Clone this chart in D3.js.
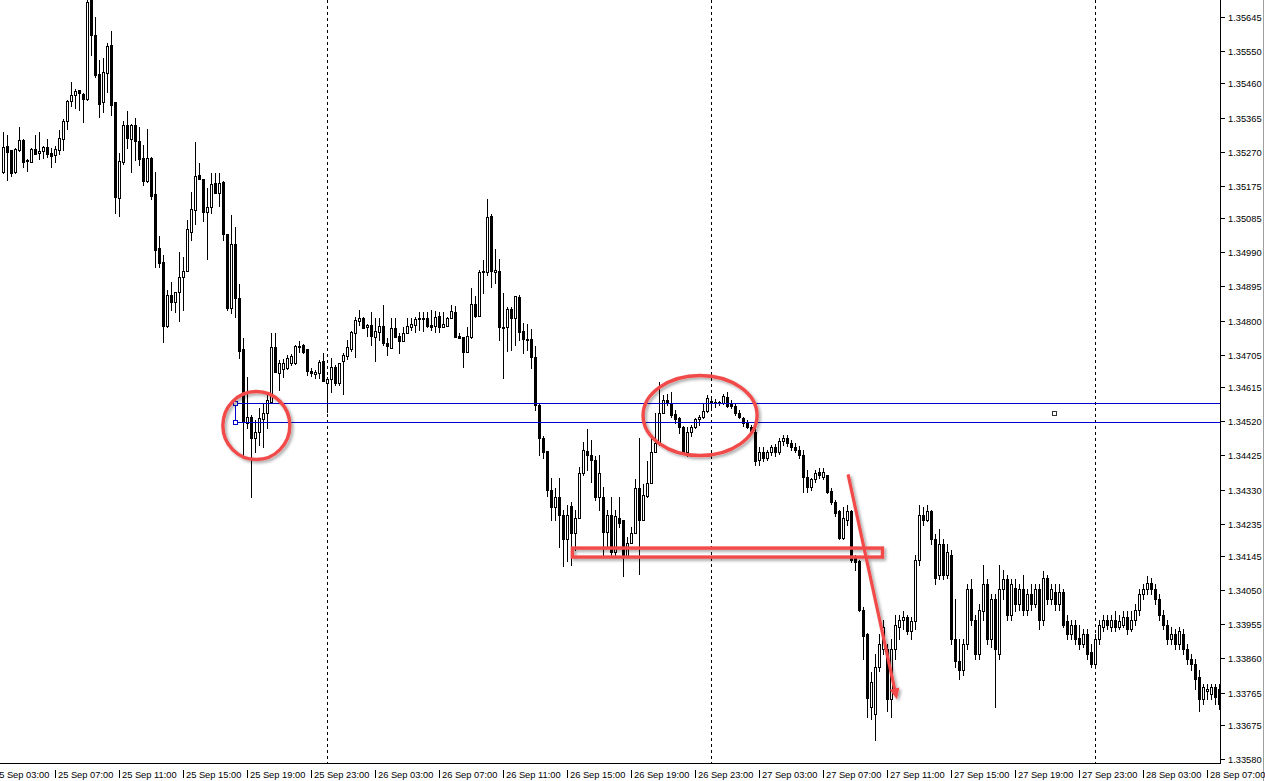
<!DOCTYPE html>
<meta charset="utf-8">
<style>
body { margin: 0; background: #fff; }
svg { display: block; }
.lbl { font: 9.3px "Liberation Sans", Arial, sans-serif; fill: #000; }
</style>
<svg width="1265" height="781"></svg>
<script src="https://d3js.org/d3.v7.min.js"></script>
<script>
// GBPUSD-style M15 bars, 25 Sep 03:45 .. 28 Sep 07:45
var firstBar = "25 Sep 03:45", barMinutes = 15;

var opens = [
1.35214,1.35286,1.35275,1.35214,1.35275,1.35303,1.35244,1.35242,1.35278,1.35267,
1.35272,1.35283,1.35267,1.35261,1.35275,1.35306,1.35356,1.35411,1.35428,1.35442,
1.35431,1.35417,1.35692,1.35595,1.35486,1.35408,1.35489,1.35567,1.35408,1.35142,
1.35242,1.35344,1.35306,1.35344,1.35300,1.35253,1.35189,1.35253,1.35153,1.35003,
1.34964,1.34786,1.34872,1.34852,1.34880,1.34922,1.34939,1.35047,1.35108,1.35205,
1.35194,1.35103,1.35117,1.35183,1.35155,1.35186,1.35041,1.34836,1.35014,1.34864,
1.34722,1.34516,1.34533,1.34474,1.34491,1.34527,1.34544,1.34574,1.34727,1.34655,
1.34666,1.34669,1.34683,1.34683,1.34727,1.34733,1.34722,1.34661,1.34652,1.34655,
1.34688,1.34627,1.34638,1.34672,1.34627,1.34688,1.34702,1.34722,1.34766,1.34800,
1.34808,1.34783,1.34789,1.34755,1.34769,1.34786,1.34738,1.34725,1.34780,1.34758,
1.34744,1.34766,1.34783,1.34789,1.34805,1.34808,1.34808,1.34789,1.34786,1.34814,
1.34783,1.34786,1.34808,1.34825,1.34758,1.34755,1.34713,1.34755,1.34847,1.34814,
1.34936,1.34936,1.35092,1.34936,1.34939,1.34780,1.34783,1.34833,1.34808,1.34866,
1.34772,1.34750,1.34750,1.34700,1.34566,1.34472,1.34438,1.34330,1.34280,1.34310,
1.34260,1.34191,1.34283,1.34210,1.34252,1.34377,1.34438,1.34427,1.34413,1.34308,
1.34308,1.34213,1.34260,1.34155,1.34252,1.34246,1.34144,1.34182,1.34210,1.34333,
1.34246,1.34313,1.34349,1.34435,1.34460,1.34544,1.34580,1.34572,1.34541,1.34530,
1.34505,1.34435,1.34491,1.34505,1.34527,1.34533,1.34549,1.34577,1.34572,1.34572,
1.34572,1.34588,1.34569,1.34563,1.34544,1.34530,1.34519,1.34505,1.34491,1.34413,
1.34435,1.34419,1.34435,1.34447,1.34435,1.34466,1.34474,1.34460,1.34449,1.34441,
1.34427,1.34366,1.34338,1.34358,1.34380,1.34366,1.34369,1.34327,1.34296,1.34271,
1.34196,1.34246,1.34269,1.34138,1.34130,1.33996,1.33927,1.33724,1.33704,1.33835,
1.33885,1.33885,1.33746,1.33885,1.33946,1.33968,1.33974,1.33935,1.33963,1.34135,
1.34260,1.34246,1.34269,1.34191,1.34093,1.34177,1.34093,1.34149,1.33913,1.33852,
1.33829,1.33899,1.34052,1.33968,1.33871,1.33991,1.34066,1.33913,1.34024,1.33871,
1.34052,1.34080,1.33982,1.34057,1.34010,1.34052,1.33996,1.34038,1.34010,1.34052,
1.33968,1.34085,1.34024,1.34046,1.34010,1.34046,1.33963,1.33927,1.33954,1.33918,
1.33899,1.33927,1.33879,1.33843,1.33913,1.33946,1.33968,1.33946,1.33968,1.33946,
1.33954,1.33974,1.33941,1.33968,1.33996,1.34038,1.34052,1.34071,1.34052,1.34024,
1.33982,1.33954,1.33913,1.33927,1.33899,1.33927,1.33885,1.33857,1.33843,1.33807,
1.33746,1.33768,1.33760,1.33779,1.33774];

var highs = [
1.35325,1.35317,1.35275,1.35281,1.35339,1.35306,1.35250,1.35281,1.35317,1.35325,
1.35286,1.35306,1.35281,1.35286,1.35331,1.35361,1.35414,1.35464,1.35445,1.35442,
1.35433,1.35714,1.35720,1.35645,1.35525,1.35531,1.35572,1.35606,1.35408,1.35267,
1.35356,1.35383,1.35347,1.35364,1.35339,1.35289,1.35333,1.35256,1.35214,1.35036,
1.34983,1.34886,1.34908,1.34880,1.34991,1.34978,1.35080,1.35158,1.35297,1.35239,
1.35194,1.35169,1.35211,1.35211,1.35211,1.35189,1.35041,1.35094,1.35061,1.34902,
1.34752,1.34644,1.34536,1.34524,1.34558,1.34572,1.34599,1.34766,1.34766,1.34691,
1.34694,1.34705,1.34708,1.34733,1.34744,1.34736,1.34722,1.34669,1.34663,1.34691,
1.34711,1.34644,1.34697,1.34677,1.34683,1.34711,1.34747,1.34772,1.34811,1.34830,
1.34811,1.34791,1.34825,1.34808,1.34808,1.34844,1.34752,1.34808,1.34808,1.34766,
1.34783,1.34808,1.34808,1.34811,1.34825,1.34825,1.34825,1.34830,1.34827,1.34825,
1.34825,1.34811,1.34844,1.34841,1.34766,1.34755,1.34783,1.34891,1.34869,1.34941,
1.34969,1.35139,1.35097,1.35000,1.34972,1.34877,1.34839,1.34839,1.34869,1.34872,
1.34794,1.34791,1.34777,1.34730,1.34572,1.34480,1.34438,1.34363,1.34335,1.34363,
1.34274,1.34288,1.34294,1.34274,1.34394,1.34463,1.34499,1.34469,1.34422,1.34427,
1.34338,1.34274,1.34310,1.34274,1.34310,1.34246,1.34199,1.34227,1.34358,1.34472,
1.34344,1.34408,1.34477,1.34544,1.34630,1.34594,1.34597,1.34602,1.34552,1.34533,
1.34508,1.34505,1.34510,1.34530,1.34536,1.34572,1.34594,1.34588,1.34583,1.34577,
1.34597,1.34602,1.34580,1.34572,1.34552,1.34533,1.34524,1.34510,1.34502,1.34449,
1.34447,1.34441,1.34455,1.34458,1.34474,1.34483,1.34483,1.34469,1.34460,1.34452,
1.34441,1.34385,1.34363,1.34385,1.34391,1.34391,1.34371,1.34333,1.34302,1.34274,
1.34280,1.34288,1.34274,1.34149,1.34135,1.34002,1.33932,1.33821,1.33871,1.33927,
1.33968,1.33899,1.33913,1.33982,1.33982,1.33991,1.33982,1.33974,1.34149,1.34288,
1.34280,1.34288,1.34274,1.34205,1.34219,1.34191,1.34177,1.34163,1.34024,1.33913,
1.33913,1.34066,1.34080,1.33982,1.34010,1.34121,1.34080,1.34038,1.34038,1.34121,
1.34107,1.34093,1.34080,1.34080,1.34066,1.34093,1.34052,1.34066,1.34066,1.34066,
1.34102,1.34093,1.34066,1.34066,1.34066,1.34052,1.33982,1.33968,1.33968,1.33954,
1.33941,1.33941,1.33899,1.33927,1.33968,1.33982,1.33982,1.33982,1.33991,1.33982,
1.33991,1.33991,1.33991,1.34010,1.34052,1.34066,1.34088,1.34085,1.34066,1.34038,
1.33996,1.33968,1.33946,1.33941,1.33946,1.33941,1.33899,1.33871,1.33857,1.33829,
1.33788,1.33788,1.33788,1.33790,1.33788];

var lows = [
1.35211,1.35192,1.35203,1.35211,1.35272,1.35228,1.35217,1.35242,1.35264,1.35250,
1.35253,1.35256,1.35228,1.35242,1.35264,1.35275,1.35333,1.35397,1.35392,1.35386,
1.35353,1.35414,1.35539,1.35478,1.35367,1.35381,1.35436,1.35372,1.35100,1.35092,
1.35236,1.35281,1.35214,1.35247,1.35233,1.35178,1.35186,1.35139,1.34950,1.34950,
1.34741,1.34783,1.34830,1.34825,1.34800,1.34830,1.34939,1.35025,1.35069,1.35194,
1.35078,1.34972,1.35100,1.35155,1.35119,1.35025,1.34830,1.34822,1.34811,1.34697,
1.34419,1.34502,1.34308,1.34433,1.34455,1.34447,1.34502,1.34574,1.34658,1.34608,
1.34644,1.34666,1.34677,1.34680,1.34713,1.34711,1.34650,1.34647,1.34641,1.34641,
1.34633,1.34547,1.34602,1.34622,1.34622,1.34597,1.34694,1.34716,1.34700,1.34789,
1.34780,1.34758,1.34733,1.34688,1.34747,1.34733,1.34705,1.34725,1.34755,1.34711,
1.34744,1.34766,1.34775,1.34769,1.34775,1.34772,1.34783,1.34775,1.34769,1.34769,
1.34783,1.34786,1.34808,1.34755,1.34752,1.34672,1.34713,1.34752,1.34811,1.34814,
1.34877,1.34927,1.34894,1.34905,1.34747,1.34641,1.34716,1.34719,1.34733,1.34747,
1.34711,1.34719,1.34669,1.34552,1.34427,1.34419,1.34313,1.34246,1.34246,1.34171,
1.34116,1.34130,1.34121,1.34163,1.34252,1.34371,1.34385,1.34352,1.34302,1.34274,
1.34144,1.34171,1.34141,1.34149,1.34227,1.34088,1.34141,1.34182,1.34210,1.34094,
1.34246,1.34310,1.34349,1.34435,1.34455,1.34544,1.34566,1.34533,1.34516,1.34488,
1.34433,1.34424,1.34480,1.34502,1.34510,1.34530,1.34547,1.34552,1.34561,1.34566,
1.34569,1.34561,1.34558,1.34538,1.34530,1.34508,1.34502,1.34491,1.34399,1.34397,
1.34408,1.34413,1.34427,1.34424,1.34430,1.34455,1.34452,1.34441,1.34433,1.34419,
1.34324,1.34324,1.34330,1.34352,1.34363,1.34360,1.34319,1.34291,1.34255,1.34191,
1.34191,1.34232,1.34127,1.34107,1.33991,1.33857,1.33696,1.33690,1.33632,1.33824,
1.33871,1.33713,1.33696,1.33857,1.33913,1.33941,1.33927,1.33913,1.33941,1.34121,
1.34232,1.34241,1.34177,1.34066,1.34080,1.34080,1.34085,1.33899,1.33835,1.33802,
1.33815,1.33885,1.33954,1.33857,1.33857,1.33968,1.33899,1.33891,1.33724,1.33857,
1.34024,1.33968,1.33968,1.33991,1.33996,1.33982,1.33982,1.33996,1.34002,1.33941,
1.33954,1.34010,1.34010,1.33996,1.33996,1.33946,1.33913,1.33913,1.33899,1.33885,
1.33891,1.33857,1.33835,1.33835,1.33899,1.33935,1.33941,1.33935,1.33935,1.33941,
1.33946,1.33927,1.33935,1.33954,1.33982,1.34024,1.34038,1.34038,1.34010,1.33968,
1.33941,1.33899,1.33899,1.33885,1.33885,1.33871,1.33843,1.33829,1.33774,1.33713,
1.33732,1.33746,1.33746,1.33732,1.33718];

var closes = [
1.35283,1.35269,1.35211,1.35278,1.35303,1.35242,1.35247,1.35278,1.35264,1.35272,
1.35283,1.35264,1.35258,1.35278,1.35308,1.35356,1.35411,1.35428,1.35439,1.35433,
1.35417,1.35686,1.35595,1.35484,1.35403,1.35492,1.35564,1.35400,1.35144,1.35244,
1.35344,1.35308,1.35344,1.35300,1.35250,1.35189,1.35253,1.35147,1.34997,1.34961,
1.34786,1.34872,1.34852,1.34880,1.34922,1.34939,1.35055,1.35111,1.35203,1.35194,
1.35103,1.35117,1.35180,1.35155,1.35183,1.35041,1.34836,1.35014,1.34864,1.34716,
1.34519,1.34533,1.34472,1.34491,1.34530,1.34544,1.34580,1.34727,1.34658,1.34683,
1.34683,1.34697,1.34702,1.34730,1.34730,1.34713,1.34661,1.34655,1.34658,1.34686,
1.34633,1.34638,1.34672,1.34627,1.34683,1.34705,1.34727,1.34769,1.34802,1.34808,
1.34780,1.34789,1.34758,1.34772,1.34786,1.34738,1.34730,1.34780,1.34755,1.34744,
1.34766,1.34786,1.34791,1.34805,1.34808,1.34805,1.34786,1.34783,1.34811,1.34783,
1.34791,1.34808,1.34827,1.34755,1.34752,1.34713,1.34758,1.34847,1.34814,1.34936,
1.34939,1.35089,1.34939,1.34941,1.34783,1.34783,1.34833,1.34808,1.34869,1.34769,
1.34750,1.34747,1.34700,1.34566,1.34474,1.34433,1.34330,1.34280,1.34308,1.34258,
1.34191,1.34260,1.34210,1.34252,1.34377,1.34441,1.34427,1.34413,1.34310,1.34377,
1.34213,1.34258,1.34155,1.34255,1.34238,1.34144,1.34182,1.34210,1.34333,1.34246,
1.34316,1.34349,1.34435,1.34460,1.34544,1.34580,1.34572,1.34538,1.34527,1.34505,
1.34435,1.34491,1.34505,1.34527,1.34533,1.34549,1.34586,1.34572,1.34574,1.34574,
1.34591,1.34563,1.34563,1.34544,1.34533,1.34516,1.34505,1.34491,1.34408,1.34435,
1.34419,1.34435,1.34447,1.34435,1.34466,1.34474,1.34460,1.34449,1.34441,1.34427,
1.34366,1.34338,1.34358,1.34377,1.34371,1.34380,1.34324,1.34296,1.34266,1.34194,
1.34252,1.34269,1.34135,1.34127,1.33996,1.33921,1.33749,1.33793,1.33835,1.33899,
1.33946,1.33746,1.33885,1.33954,1.33968,1.33974,1.33935,1.33963,1.34135,1.34260,
1.34246,1.34269,1.34191,1.34085,1.34177,1.34093,1.34157,1.33913,1.33852,1.33829,
1.33899,1.34052,1.33968,1.33871,1.33996,1.34066,1.33913,1.34024,1.33885,1.34052,
1.34080,1.33982,1.34066,1.34010,1.34052,1.33996,1.34038,1.34010,1.34052,1.33968,
1.34085,1.34024,1.34052,1.34010,1.34046,1.33954,1.33927,1.33954,1.33913,1.33899,
1.33927,1.33871,1.33843,1.33913,1.33954,1.33968,1.33954,1.33968,1.33946,1.33963,
1.33974,1.33941,1.33968,1.33996,1.34038,1.34052,1.34071,1.34052,1.34024,1.33982,
1.33954,1.33913,1.33927,1.33899,1.33935,1.33885,1.33857,1.33843,1.33802,1.33746,
1.33779,1.33774,1.33779,1.33752,1.33732];

var priceTicks = [1.35645, 1.35550, 1.35460, 1.35365, 1.35270, 1.35175, 1.35085, 1.34990,
  1.34895, 1.34800, 1.34705, 1.34615, 1.34520, 1.34425, 1.34330, 1.34235, 1.34145,
  1.34050, 1.33955, 1.33860, 1.33765, 1.33675, 1.33580];

var timeTicks = ["25 Sep 03:00", "25 Sep 07:00", "25 Sep 11:00", "25 Sep 15:00", "25 Sep 19:00",
  "25 Sep 23:00", "26 Sep 03:00", "26 Sep 07:00", "26 Sep 11:00", "26 Sep 15:00", "26 Sep 19:00",
  "26 Sep 23:00", "27 Sep 03:00", "27 Sep 07:00", "27 Sep 11:00", "27 Sep 15:00", "27 Sep 19:00",
  "27 Sep 23:00", "28 Sep 03:00", "28 Sep 07:00"];

var daySeparators = ["26 Sep 00:00", "27 Sep 00:00", "28 Sep 00:00"];

// drawn objects, anchored in time / price
var level = {from: "25 Sep 18:15", top: 1.34570, bottom: 1.34518, mark: "27 Sep 21:30"};
var circles = [
  {at: "25 Sep 19:35", price: 1.34508, rx: 33.5, ry: 34},
  {at: "26 Sep 23:19", price: 1.34536, rx: 57, ry: 40}
];
var zone = {from: "26 Sep 15:20", to: "27 Sep 10:43", top: 1.34167, bottom: 1.34142};
var arrow = {from: "27 Sep 08:34", p0: 1.34372, to: "27 Sep 11:37", p1: 1.33746};

var svg = d3.select("svg"),
    plotRight = 1220, plotBottom = 763;

var parse = d3.utcParse("%Y %d %b %H:%M");
function t(s) { return parse("2017 " + s); }

var t0 = t(firstBar);
var bars = opens.map(function(o, i) {
  return {t: d3.utcMinute.offset(t0, i * barMinutes), o: o, h: highs[i], l: lows[i], c: closes[i]};
});

var x = d3.scaleUtc()
    .domain([bars[0].t, bars[bars.length - 1].t])
    .range([3, 1219]);
var y = d3.scaleLinear()
    .domain([1.33580, 1.35645])
    .range([759, 17]);

var defs = svg.append("defs");
defs.append("clipPath").attr("id", "plot")
  .append("rect").attr("width", plotRight).attr("height", plotBottom);
var f = defs.append("filter").attr("id", "shadow")
    .attr("x", "-20%").attr("y", "-20%").attr("width", "140%").attr("height", "140%");
f.append("feDropShadow").attr("dx", 2).attr("dy", 2).attr("stdDeviation", 1.6)
  .attr("flood-color", "#000").attr("flood-opacity", 0.35);

var plot = svg.append("g").attr("clip-path", "url(#plot)");

// period separators
plot.selectAll(".sep")
  .data(daySeparators)
  .enter().append("line")
    .attr("x1", function(d) { return Math.round(x(t(d))) + 0.5; })
    .attr("x2", function(d) { return Math.round(x(t(d))) + 0.5; })
    .attr("y1", 0).attr("y2", plotBottom)
    .attr("stroke", "#000").attr("stroke-dasharray", "3,3")
    .attr("shape-rendering", "crispEdges");

// candles
var candle = plot.selectAll(".bar")
  .data(bars)
  .enter().append("g")
    .attr("shape-rendering", "crispEdges");

candle.append("line")
  .attr("x1", function(d) { return Math.round(x(d.t)) + 0.5; })
  .attr("x2", function(d) { return Math.round(x(d.t)) + 0.5; })
  .attr("y1", function(d) { return Math.round(y(d.h)); })
  .attr("y2", function(d) { return Math.round(y(d.l)) + 1; })
  .attr("stroke", "#000");

candle.each(function(d) {
  var cx = Math.round(x(d.t)), yo = Math.round(y(d.o)), yc = Math.round(y(d.c)), g = d3.select(this);
  if (yo === yc) {
    g.append("rect").attr("x", cx - 1).attr("y", yo).attr("width", 3).attr("height", 1).attr("fill", "#000");
  } else if (d.c > d.o) {
    g.append("rect").attr("x", cx - 0.5).attr("y", yc + 0.5).attr("width", 2).attr("height", yo - yc)
      .attr("fill", "#fff").attr("stroke", "#000");
  } else {
    g.append("rect").attr("x", cx - 1).attr("y", yo).attr("width", 3).attr("height", yc - yo + 1)
      .attr("fill", "#000");
  }
});

// level rectangle object
var lx = Math.round(x(t(level.from))) + 0.5,
    ly1 = Math.round(y(level.top)) + 0.5,
    ly2 = Math.round(y(level.bottom)) + 0.5,
    blue = "#0000cc";
var lv = plot.append("g").attr("shape-rendering", "crispEdges").attr("stroke", blue);
[ly1, ly2].forEach(function(v) {
  lv.append("line").attr("x1", lx).attr("x2", plotRight).attr("y1", v).attr("y2", v);
});
lv.append("line").attr("x1", lx).attr("x2", lx).attr("y1", ly1).attr("y2", ly2);
[ly1, ly2].forEach(function(v) {
  lv.append("rect").attr("x", lx - 2).attr("y", v - 2).attr("width", 4).attr("height", 4).attr("fill", "#fff");
});
lv.append("rect")
  .attr("x", Math.round(x(t(level.mark))) - 2.5).attr("y", Math.round((ly1 + ly2) / 2) - 2)
  .attr("width", 4).attr("height", 4).attr("fill", "#fff").attr("stroke", "#333");

// red markup
var red = "#f24848";
var mk = svg.append("g").attr("filter", "url(#shadow)")
    .attr("fill", "none").attr("stroke", red).attr("stroke-width", 3.4);

mk.selectAll("ellipse")
  .data(circles)
  .enter().append("ellipse")
    .attr("cx", function(d) { return x(t(d.at)); })
    .attr("cy", function(d) { return y(d.price); })
    .attr("rx", function(d) { return d.rx; })
    .attr("ry", function(d) { return d.ry; });

mk.append("rect")
  .attr("x", x(t(zone.from))).attr("y", y(zone.top))
  .attr("width", x(t(zone.to)) - x(t(zone.from)))
  .attr("height", y(zone.bottom) - y(zone.top));

var ax0 = x(t(arrow.from)), ay0 = y(arrow.p0), ax1 = x(t(arrow.to)), ay1 = y(arrow.p1);
var len = Math.hypot(ax1 - ax0, ay1 - ay0), ux = (ax1 - ax0) / len, uy = (ay1 - ay0) / len;
mk.append("line")
  .attr("x1", ax0).attr("y1", ay0)
  .attr("x2", ax1 - ux * 8).attr("y2", ay1 - uy * 8)
  .attr("stroke-width", 3.2);
mk.append("path")
  .attr("stroke", "none").attr("fill", red)
  .attr("d", "M" + ax1 + "," + ay1 +
    "L" + (ax1 - ux * 11 - uy * 5) + "," + (ay1 - uy * 11 + ux * 5) +
    "L" + (ax1 - ux * 11 + uy * 5) + "," + (ay1 - uy * 11 - ux * 5) + "Z");

// axes
var axis = svg.append("g").attr("shape-rendering", "crispEdges");
axis.append("line").attr("x1", plotRight + 0.5).attr("x2", plotRight + 0.5)
  .attr("y1", 0).attr("y2", plotBottom + 1).attr("stroke", "#000");
axis.append("line").attr("x1", 0).attr("x2", plotRight + 1)
  .attr("y1", plotBottom + 0.5).attr("y2", plotBottom + 0.5).attr("stroke", "#000");
axis.append("line").attr("x1", 1263.5).attr("x2", 1263.5)
  .attr("y1", 0).attr("y2", 781).attr("stroke", "#a0a0a0");

var pt = axis.selectAll(".pt").data(priceTicks).enter().append("g");
pt.append("line")
  .attr("x1", plotRight + 1).attr("x2", plotRight + 5)
  .attr("y1", function(d) { return Math.round(y(d)) + 0.5; })
  .attr("y2", function(d) { return Math.round(y(d)) + 0.5; })
  .attr("stroke", "#000");
pt.append("text").attr("class", "lbl")
  .attr("x", 1228)
  .attr("y", function(d) { return Math.round(y(d)) + 3.5; })
  .text(function(d) { return d.toFixed(5); });

var tt = axis.selectAll(".tt").data(timeTicks).enter().append("g");
tt.append("line")
  .attr("x1", function(d) { return Math.round(x(t(d))) + 0.5; })
  .attr("x2", function(d) { return Math.round(x(t(d))) + 0.5; })
  .attr("y1", 770).attr("y2", 778)
  .attr("stroke", "#000");
tt.append("text").attr("class", "lbl")
  .attr("x", function(d) { return Math.round(x(t(d))) + 3; })
  .attr("y", 778)
  .text(function(d) { return d; });
</script>
